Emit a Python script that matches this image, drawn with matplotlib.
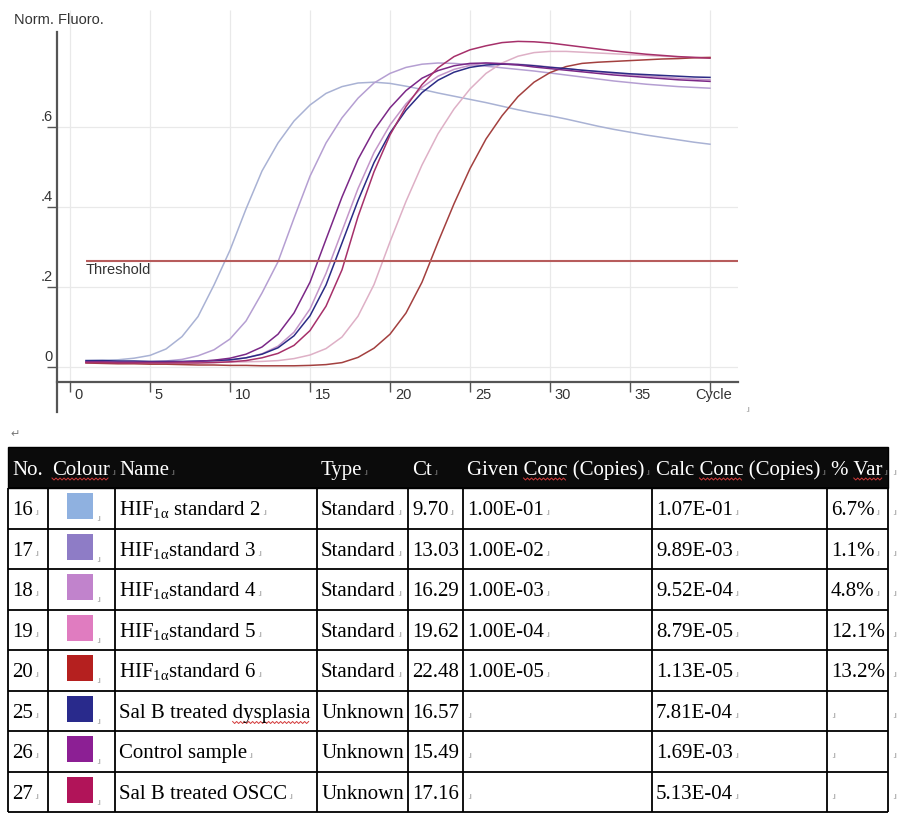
import matplotlib
matplotlib.use('Agg')
import matplotlib.pyplot as plt
import numpy as np
from matplotlib.patches import Rectangle
from matplotlib.font_manager import FontProperties

plt.rcParams['mathtext.fontset'] = 'custom'
plt.rcParams['mathtext.rm'] = 'Liberation Serif'
plt.rcParams['mathtext.it'] = 'Liberation Serif:italic'
plt.rcParams['mathtext.bf'] = 'Liberation Serif:bold'

# ---- amplification curves (normalised fluorescence per cycle)
cycles = list(range(1, 41))

fluoro_16 = [0.016, 0.017, 0.018, 0.022, 0.029, 0.045, 0.076, 0.126, 0.205, 0.292,
             0.395, 0.490, 0.560, 0.615, 0.655, 0.684, 0.701, 0.710, 0.712, 0.709,
             0.702, 0.694, 0.685, 0.677, 0.669, 0.661, 0.652, 0.643, 0.635, 0.628,
             0.620, 0.611, 0.602, 0.594, 0.587, 0.580, 0.574, 0.568, 0.562, 0.557]
fluoro_17 = [0.012, 0.012, 0.012, 0.012, 0.013, 0.015, 0.019, 0.028, 0.043, 0.070,
             0.115, 0.185, 0.263, 0.372, 0.477, 0.560, 0.623, 0.672, 0.710, 0.734,
             0.749, 0.757, 0.760, 0.759, 0.756, 0.752, 0.748, 0.744, 0.740, 0.735,
             0.730, 0.725, 0.720, 0.715, 0.711, 0.707, 0.704, 0.701, 0.699, 0.697]
fluoro_18 = [0.012, 0.012, 0.012, 0.012, 0.012, 0.012, 0.012, 0.013, 0.014, 0.017,
             0.023, 0.033, 0.052, 0.087, 0.145, 0.234, 0.340, 0.446, 0.536, 0.605,
             0.658, 0.699, 0.727, 0.744, 0.754, 0.760, 0.759, 0.757, 0.754, 0.750,
             0.746, 0.742, 0.738, 0.734, 0.731, 0.728, 0.725, 0.722, 0.720, 0.718]
fluoro_19 = [0.013, 0.013, 0.012, 0.012, 0.012, 0.012, 0.012, 0.012, 0.012, 0.012,
             0.013, 0.014, 0.016, 0.021, 0.030, 0.046, 0.075, 0.127, 0.206, 0.313,
             0.414, 0.505, 0.583, 0.645, 0.695, 0.734, 0.760, 0.777, 0.786, 0.789,
             0.789, 0.787, 0.785, 0.783, 0.781, 0.779, 0.777, 0.775, 0.774, 0.773]
fluoro_20 = [0.010, 0.009, 0.008, 0.008, 0.007, 0.007, 0.006, 0.005, 0.005, 0.004,
             0.004, 0.003, 0.003, 0.003, 0.004, 0.006, 0.011, 0.024, 0.047, 0.082,
             0.135, 0.212, 0.312, 0.408, 0.496, 0.570, 0.628, 0.676, 0.712, 0.736,
             0.751, 0.759, 0.762, 0.764, 0.766, 0.768, 0.770, 0.771, 0.773, 0.774]
fluoro_25 = [0.016, 0.016, 0.015, 0.015, 0.014, 0.014, 0.014, 0.015, 0.016, 0.018,
             0.023, 0.032, 0.048, 0.078, 0.128, 0.205, 0.310, 0.416, 0.511, 0.585,
             0.642, 0.686, 0.717, 0.737, 0.749, 0.755, 0.757, 0.756, 0.753, 0.749,
             0.746, 0.742, 0.739, 0.736, 0.733, 0.731, 0.729, 0.727, 0.725, 0.724]
fluoro_26 = [0.013, 0.013, 0.012, 0.012, 0.012, 0.012, 0.013, 0.014, 0.017, 0.022,
             0.032, 0.050, 0.082, 0.135, 0.212, 0.319, 0.425, 0.519, 0.592, 0.648,
             0.691, 0.722, 0.741, 0.753, 0.759, 0.760, 0.758, 0.755, 0.750, 0.746,
             0.742, 0.738, 0.734, 0.730, 0.727, 0.724, 0.721, 0.718, 0.716, 0.714]
fluoro_27 = [0.011, 0.011, 0.010, 0.010, 0.010, 0.010, 0.010, 0.010, 0.011, 0.013,
             0.016, 0.023, 0.034, 0.054, 0.091, 0.152, 0.243, 0.376, 0.488, 0.580,
             0.651, 0.706, 0.748, 0.776, 0.793, 0.803, 0.811, 0.814, 0.813, 0.810,
             0.805, 0.800, 0.795, 0.790, 0.786, 0.782, 0.779, 0.776, 0.774, 0.772]

threshold = 0.265

x_ticks = [0, 5, 10, 15, 20, 25, 30, 35, 40]
x_tick_labels = ['0', '5', '10', '15', '20', '25', '30', '35', 'Cycle']
y_ticks = [0, 0.2, 0.4, 0.6]
y_tick_labels = ['0', '.2', '.4', '.6']

# ---- table
nos = ['16', '17', '18', '19', '20', '25', '26', '27']
names = [r'HIF$_{\mathrm{1α}}$ standard 2', r'HIF$_{\mathrm{1α}}$standard 3',
         r'HIF$_{\mathrm{1α}}$standard 4', r'HIF$_{\mathrm{1α}}$standard 5',
         r'HIF$_{\mathrm{1α}}$standard 6', 'Sal B treated dysplasia',
         'Control sample', 'Sal B treated OSCC']
types = ['Standard', 'Standard', 'Standard', 'Standard', 'Standard',
         'Unknown', 'Unknown', 'Unknown']
cts = ['9.70', '13.03', '16.29', '19.62', '22.48', '16.57', '15.49', '17.16']
given_conc = ['1.00E-01', '1.00E-02', '1.00E-03', '1.00E-04', '1.00E-05', '', '', '']
calc_conc = ['1.07E-01', '9.89E-03', '9.52E-04', '8.79E-05', '1.13E-05',
             '7.81E-04', '1.69E-03', '5.13E-04']
pct_var = ['6.7%', '1.1%', '4.8%', '12.1%', '13.2%', '', '', '']
headers = ['No.', 'Colour', 'Name', 'Type', 'Ct', 'Given Conc (Copies)',
           'Calc Conc (Copies)', '% Var']

swatch_colors = ['#8fb1e0', '#8e7cc6', '#c183cc', '#e07cc0', '#b5201f',
                 '#292a8c', '#8c1f94', '#b11459']
line_colors = ['#a9b2d4', '#b59fd2', '#c496c9', '#deb0c6', '#a3403f',
               '#2b2b85', '#7b2887', '#a6306a']
series = [fluoro_16, fluoro_17, fluoro_18, fluoro_19, fluoro_20,
          fluoro_25, fluoro_26, fluoro_27]

W, H = 901, 813
fig = plt.figure(figsize=(W / 100, H / 100), dpi=100)
renderer = fig.canvas.get_renderer()

tax = fig.add_axes([0, 0, 1, 1])
tax.set_xlim(0, W)
tax.set_ylim(H, 0)
tax.axis('off')

# ---- chart
ax = fig.add_axes([57 / W, 1 - 412 / H, (738 - 57) / W, (412 - 10) / H])
ax.set_xlim(-0.8125, 41.75)
ax.set_ylim(-0.1125, 0.8925)
axis_y = -0.0375
grid_c = '#e9e9e9'
ax.vlines(x_ticks, axis_y, 0.8925, color=grid_c, lw=0.9, zorder=0)
ax.hlines(y_ticks, -0.8125, 41.75, color=grid_c, lw=0.9, zorder=0)

for vals, c in zip(series, line_colors):
    ax.plot(cycles, vals, color=c, lw=1.1)

ax.hlines(threshold, cycles[0], 41.75, color='#b75c5c', lw=1.5)
sans = 'Liberation Sans'
tc = '#333333'
ax.text(1.0, threshold - 0.0225, 'Threshold', family=sans, fontsize=10.5,
        color=tc, ha='left', va='center')

for s in ['top', 'right']:
    ax.spines[s].set_visible(False)
ax.spines['bottom'].set_position(('data', axis_y))
ax.spines['left'].set_bounds(-0.1125, 0.8375)
for s in ['bottom', 'left']:
    ax.spines[s].set_color('#555555')
    ax.spines[s].set_linewidth(1.6)
ax.set_xticks(x_ticks)
ax.set_yticks(y_ticks)
ax.tick_params(axis='both', direction='out', length=7, width=1, color='#555555',
               labelbottom=False, labelleft=False)
for t, lab in zip(x_ticks, x_tick_labels):
    xoff = 0.3 if lab != 'Cycle' else -0.9
    ax.text(t + xoff, -0.07, lab, family=sans, fontsize=10.5, color=tc,
            ha='left', va='center', clip_on=False)
for t, lab in zip(y_ticks, y_tick_labels):
    ax.text(-1.06, t + 0.024, lab, family=sans, fontsize=10.5, color=tc,
            ha='right', va='center', clip_on=False)

fig.text(14 / W, 1 - 20 / H, 'Norm. Fluoro.', family=sans, fontsize=10.5,
         color=tc, ha='left', va='center')
MARK = '.ı'
mark_c = '#8c8c8c'
tax.text(745, 412, MARK, fontsize=6, color=mark_c, va='baseline')
tax.text(10, 437, '↵', fontsize=8, color='#777777', va='baseline')

# ---- table drawing
serif = 'Liberation Serif'
FS = 15
col_edges = [8, 48, 115, 317, 408, 463, 652, 827, 888]
head_top, head_bot = 447, 488
row_h = 40.5
n_rows = len(nos)
row_edges = [head_bot + i * row_h for i in range(n_rows + 1)]


def put_mark(t, y, right):
    bb = t.get_window_extent(renderer)
    xe = tax.transData.inverted().transform((bb.x1, bb.y0))[0]
    if xe + 7 < right:
        tax.text(xe + 1, y, MARK, fontsize=6, color=mark_c, va='baseline')


def squiggle(x0, x1, y):
    xs = np.arange(x0, x1, 2.0)
    ys = y + np.where(np.arange(len(xs)) % 2 == 0, -1.0, 1.0)
    tax.plot(xs, ys, color='#d23a3a', lw=0.7)


def word_span(x, full, word, size):
    prop = FontProperties(family=serif, size=size)
    i = full.index(word)
    w0 = renderer.get_text_width_height_descent(full[:i], prop, ismath=False)[0] if i else 0
    w1 = renderer.get_text_width_height_descent(full[:i + len(word)], prop, ismath=False)[0]
    return x + w0, x + w1


tax.add_patch(Rectangle((col_edges[0], head_top), col_edges[-1] - col_edges[0],
                        head_bot - head_top, facecolor='#0b0b0b', edgecolor='black'))
hb = head_top + 28
for j, h in enumerate(headers):
    x = col_edges[j] + 4
    t = tax.text(x, hb, h, family=serif, fontsize=FS, color='white', va='baseline')
    if j > 0:
        put_mark(t, hb, col_edges[j + 1] + 4)
    for w in ['Colour', 'Conc', 'Var']:
        if w in h:
            a, b = word_span(x, h, w, FS)
            squiggle(a, b, hb + 4)

for i in range(n_rows):
    top = row_edges[i]
    base = top + 27
    cells = [nos[i], None, names[i], types[i], cts[i], given_conc[i],
             calc_conc[i], pct_var[i]]
    for j, s in enumerate(cells):
        x = col_edges[j] + 4
        right = col_edges[j + 1]
        if j == 1:
            tax.add_patch(Rectangle((67, top + 5), 26, 26, facecolor=swatch_colors[i],
                                    edgecolor='none'))
            tax.text(96, top + 33, MARK, fontsize=6, color=mark_c, va='baseline')
            continue
        t = tax.text(x, base, s, family=serif, fontsize=FS, color='black',
                     va='baseline')
        if s == '':
            tax.text(x, base, MARK, fontsize=6, color=mark_c, va='baseline')
        else:
            put_mark(t, base, right)
        if 'dysplasia' in s:
            a, b = word_span(x, s, 'dysplasia', FS)
            squiggle(a, b, base + 5)
    tax.text(892, base, MARK, fontsize=6, color=mark_c, va='baseline')
tax.text(892, hb, MARK, fontsize=6, color=mark_c, va='baseline')

tax.hlines(row_edges, col_edges[0], col_edges[-1], color='black', lw=1.3)
tax.vlines(col_edges, row_edges[0], row_edges[-1], color='black', lw=1.3)

fig.savefig('out.png', dpi=100)
